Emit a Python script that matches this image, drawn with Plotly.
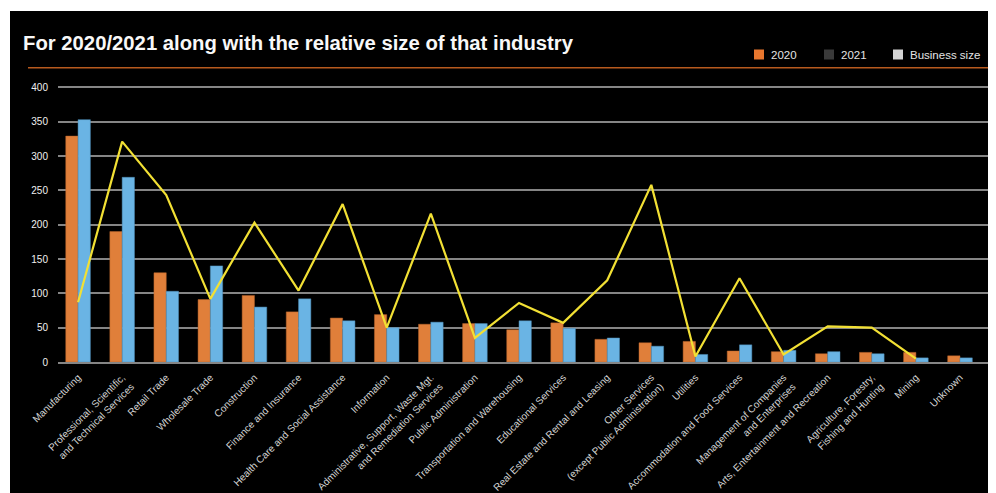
import plotly.graph_objects as go

categories = [
    "Manufacturing",
    "Professional, Scientific,<br>and Technical Services",
    "Retail Trade",
    "Wholesale Trade",
    "Construction",
    "Finance and Insurance",
    "Health Care and Social Assistance",
    "Information",
    "Administrative, Support, Waste Mgt.<br>and Remediation Services",
    "Public Administration",
    "Transportation and Warehousing",
    "Educational Services",
    "Real Estate and Rental and Leasing",
    "Other Services<br>(except Public Administration)",
    "Utilities",
    "Accommodation and Food Services",
    "Management of Companies<br>and Enterprises",
    "Arts, Entertainment and Recreation",
    "Agriculture, Forestry,<br>Fishing and Hunting",
    "Mining",
    "Unknown",
]
values_2020 = [329, 190, 130, 91, 97, 73, 64, 69, 55, 56, 47, 57, 33, 28, 30, 16, 15, 12, 14, 14, 9]
values_2021 = [353, 269, 103, 140, 80, 92, 60, 50, 58, 56, 60, 49, 35, 23, 11, 25, 17, 15, 12, 6, 6]
business_size = [87, 321, 243, 92, 203, 104, 230, 50, 216, 35, 86, 57, 119, 258, 8, 122, 11, 52, 50, 5, None]
y_ticks = [0, 50, 100, 150, 200, 250, 300, 350, 400]

legend_items = ["2020", "2021", "Business size"]
legend_colors = ["#e8772e", "#3a3a3a", "#d4d4d4"]

# page body has an 8px margin; work in reference-page pixels and shift
OFF = 8
PAGE_W, PAGE_H = 996, 493
W, H = PAGE_W - OFF, PAGE_H - OFF
PL, PR, PT, PB = 58, 988, 86, 362          # plot area in page pixels
ML, MR, MT, MB = PL - OFF, W - (PR - OFF), PT - OFF, H - (PB - OFF)
PW, PH = PR - PL, PB - PT


def px_x(px):
    return (px - PL) / PW


def px_y(py):
    return (PB - py) / PH


ORANGE = "#e07f3a"
BLUE = "#6ab4e4"
YELLOW = "#f2e034"
GRID = "#858585"
FONT = "Liberation Sans, Arial, sans-serif"

fig = go.Figure()
fig.add_trace(go.Bar(x=categories, y=values_2020, name="2020",
                     marker=dict(color=ORANGE, line=dict(color="#b8652c", width=0.5)),
                     showlegend=False))
fig.add_trace(go.Bar(x=categories, y=values_2021, name="2021",
                     marker=dict(color=BLUE, line=dict(color="#4f8fb8", width=0.5)),
                     showlegend=False))
fig.add_trace(go.Scatter(x=categories, y=business_size, name="Business size",
                         mode="lines", line=dict(color=YELLOW, width=2.2),
                         connectgaps=False, showlegend=False))

shapes = [
    dict(type="rect", xref="paper", yref="paper", layer="below",
         x0=px_x(10), x1=px_x(PAGE_W + 4), y0=px_y(11), y1=px_y(PAGE_H + 4),
         fillcolor="black", line=dict(width=0)),
    dict(type="line", xref="paper", yref="paper",
         x0=px_x(28), x1=px_x(988), y0=px_y(67.7), y1=px_y(67.7),
         line=dict(color="#b85a1e", width=1.5)),
]
annotations = []
legend_sq_x = [754, 824, 893]
legend_txt_x = [769, 839, 908]
for name, col, sx, tx in zip(legend_items, legend_colors, legend_sq_x, legend_txt_x):
    shapes.append(dict(type="rect", xref="paper", yref="paper",
                       x0=px_x(sx), x1=px_x(sx + 10), y0=px_y(59.5), y1=px_y(49.5),
                       fillcolor=col, line=dict(width=0)))
    annotations.append(dict(text=name, xref="paper", yref="paper",
                            x=px_x(tx), y=px_y(54.5), xanchor="left", yanchor="middle",
                            showarrow=False,
                            font=dict(family=FONT, size=11.5, color="#e4e4e4")))

fig.update_layout(
    width=W, height=H,
    margin=dict(l=ML, r=MR, t=MT, b=MB, autoexpand=False),
    paper_bgcolor="white",
    plot_bgcolor="black",
    barmode="group",
    bargap=0.442,
    bargroupgap=0,
    title=dict(text="<b>For 2020/2021 along with the relative size of that industry</b>",
               x=(23 - OFF) / W, xanchor="left", xref="container",
               y=1 - (43 - OFF) / H, yanchor="middle", yref="container",
               font=dict(family=FONT, size=20.3, color="#f8f8f8")),
    shapes=shapes,
    annotations=annotations,
    showlegend=False,
    xaxis=dict(type="category", range=[-0.455, 20.635], automargin=False,
               showgrid=False, showline=True, linecolor=GRID, linewidth=1.5,
               tickangle=-45, ticks="outside", ticklen=4, tickcolor="rgba(0,0,0,0)",
               tickfont=dict(family=FONT, size=10, color="#d4d4d4")),
    yaxis=dict(range=[0, 402], tickvals=y_ticks, showgrid=True, gridcolor=GRID, gridwidth=1.5,
               zeroline=False, showline=False, automargin=False,
               ticks="outside", ticklen=7, tickcolor="rgba(0,0,0,0)",
               tickfont=dict(family=FONT, size=10, color="#f0f0f0")),
)

fig.write_html("out.html")
